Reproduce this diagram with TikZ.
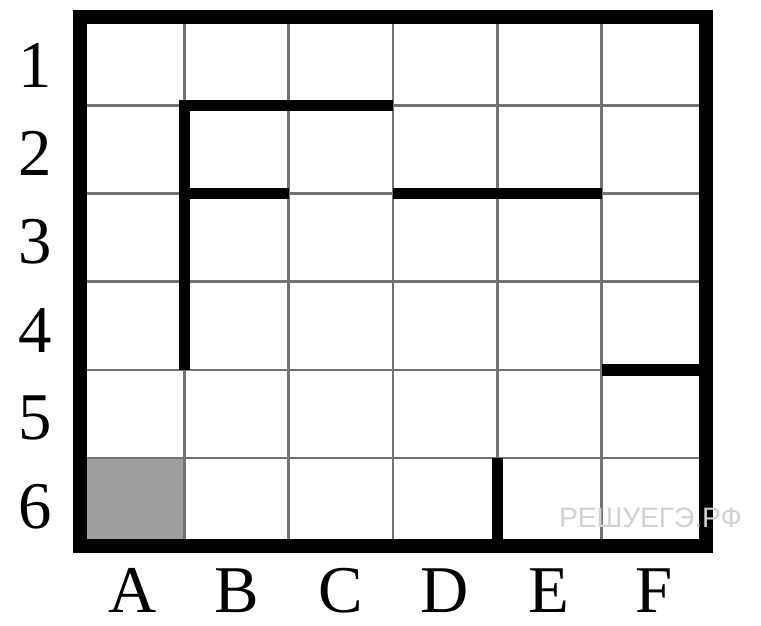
\documentclass[tikz,border=0pt]{standalone}
\usepackage{fontspec}
\setmainfont{Liberation Serif}
\newfontfamily\wmfont{Liberation Sans}

\tikzset{
  thinline/.style={black!55, line width=1.5pt},
  wall/.style={line width=6.5pt},
  frame/.style={line width=8pt},
  lbl/.style={inner sep=0pt, font=\fontsize{38}{40}\selectfont}
}

\begin{document}
\begin{tikzpicture}[x=2.086cm,y=-1.764cm]
    \useasboundingbox (-0.767,-0.193) rectangle (6.529,6.893);

    % shaded cell A6
    \fill[black!38] (0,5) rectangle (1,6);

    % grid
    \foreach \i in {1,...,5} {
        \draw[thinline] (\i,0) -- (\i,6);
        \draw[thinline] (0,\i) -- (6,\i);
    }

    % walls
    \draw[wall] (1,4) -- (1,1) -- (3,1);
    \draw[wall] (1,2) -- (2,2);
    \draw[wall] (3,2) -- (5,2);
    \draw[wall] (5,4) -- (6,4);
    \draw[wall] (4,5) -- (4,6);

    % outer frame
    \draw[frame] (0,0) rectangle (6,6);

    % row and column labels
    \foreach \n in {1,...,6}
        \node[lbl] (r\n) at (-0.43,{\n-0.45}) {\n};
    \foreach \c [count=\k] in {A,B,C,D,E,F}
        \node[lbl] (c\c) at ({\k-0.5},6.5) {\c};

    \node[text=black!18, font=\wmfont\fontsize{16}{18}\selectfont] (wm) at (5.47,5.68) {РЕШУЕГЭ.РФ};
\end{tikzpicture}
\end{document}
